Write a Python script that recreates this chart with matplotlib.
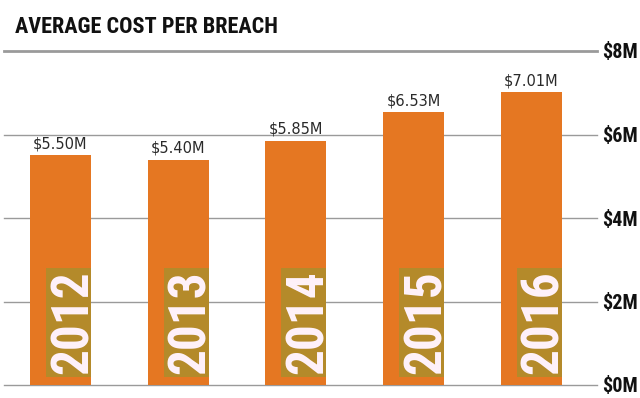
import matplotlib
matplotlib.use("Agg")
import matplotlib.pyplot as plt

years = ["2012", "2013", "2014", "2015", "2016"]
avg_cost = [5.50, 5.40, 5.85, 6.53, 7.01]  # $M
cost_labels = ["$5.50M", "$5.40M", "$5.85M", "$6.53M", "$7.01M"]
y_ticks = [0, 2, 4, 6, 8]

narrow = ["Roboto Condensed", "Liberation Sans Narrow", "DejaVu Sans"]
orange = "#e57722"
olive = "#b48a2a"

fig = plt.figure(figsize=(6.4, 3.98), dpi=100)
ax = fig.add_axes([4 / 640, 13 / 398, 593 / 640, 334 / 398])

x = range(len(years))
bar_w = 0.52
bars = ax.bar(x, avg_cost, width=bar_w, color=orange, zorder=2)

for i, (v, lab, yr) in enumerate(zip(avg_cost, cost_labels, years)):
    ax.annotate(lab, (i, v), xytext=(0, 3), textcoords="offset points",
                ha="center", va="bottom", fontsize=10.5, color="#2a2a2a",
                family="DejaVu Sans", zorder=3)
    # year written up the bar, on a muddy box clipped to the bar
    t = ax.text(i + bar_w / 2 - 0.03, 0.26, yr, rotation=90, rotation_mode="anchor",
                ha="left", va="baseline", fontsize=37, fontweight="bold",
                color="#fff2fb", family=narrow, zorder=3, clip_on=True,
                bbox=dict(boxstyle="square,pad=0.05", fc=olive, ec="none"))
    t.set_clip_path(bars[i])

ax.set_xlim(-0.48, 4.56)
ax.set_ylim(0, 8)
ax.set_yticks(y_ticks)
ax.set_yticklabels([f"${t}M" for t in y_ticks])
ax.yaxis.tick_right()
ax.tick_params(axis="y", length=0, pad=4, labelsize=14.5)
for t in ax.get_yticklabels():
    t.set_fontfamily(narrow)
    t.set_fontweight("bold")
    t.set_color("#111111")
ax.set_xticks([])
ax.grid(axis="y", color="#9a9a9a", linewidth=1, zorder=1)
for g in ax.get_ygridlines():
    g.set_clip_on(False)
ax.get_ygridlines()[-1].set_linewidth(2)
ax.set_axisbelow(True)
for s in ax.spines.values():
    s.set_visible(False)

fig.text(15 / 640, 1 - 33 / 398, "AVERAGE COST PER BREACH", ha="left", va="baseline",
         fontsize=16, fontweight="bold", color="#111111", family=narrow)

fig.savefig("out.png", dpi=100)
